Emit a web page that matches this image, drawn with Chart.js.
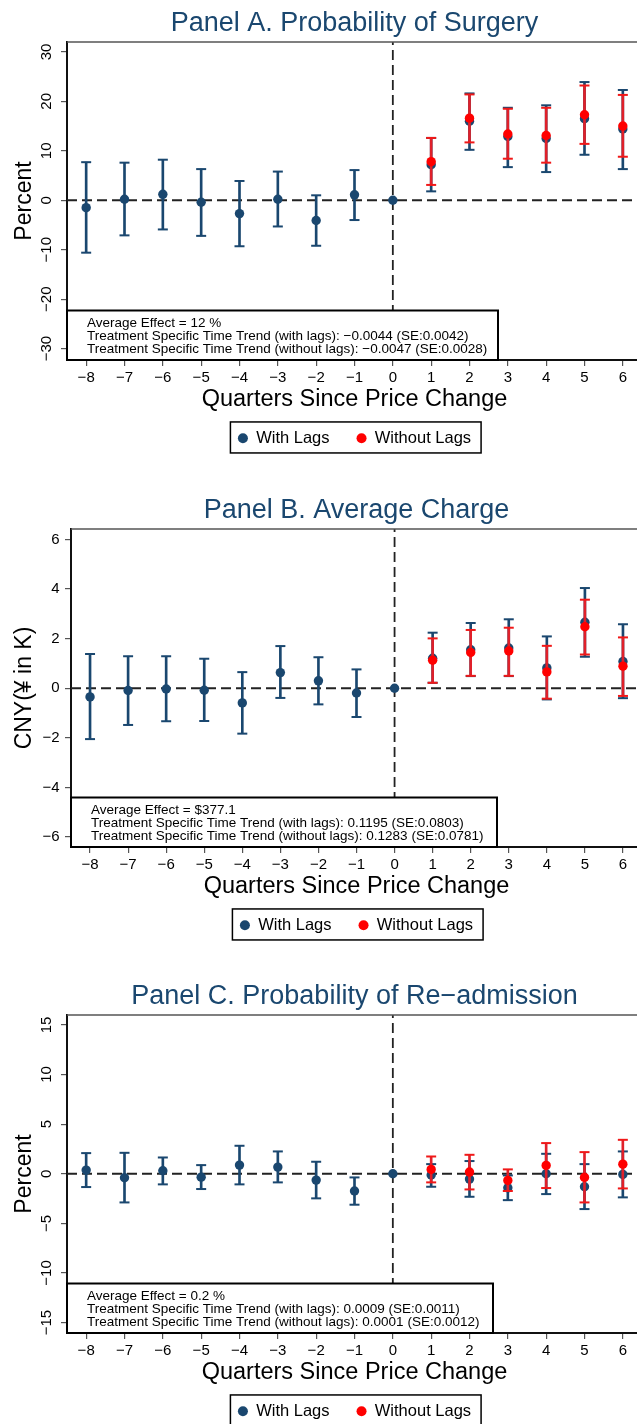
<!DOCTYPE html>
<html>
<head>
<meta charset="utf-8">
<script src="https://cdn.jsdelivr.net/npm/chart.js@4.4.0/dist/chart.umd.min.js"></script>
<style>
  html, body { margin: 0; padding: 0; background: #fff; overflow: hidden; }
  #wrap { width: 637px; height: 1424px; overflow: hidden; }
  canvas { display: block; }
</style>
</head>
<body>
<div id="wrap">
  <canvas id="panelA" width="649" height="487"></canvas>
  <canvas id="panelB" width="649" height="486"></canvas>
  <canvas id="panelC" width="649" height="487"></canvas>
</div>
<script>
// quarters relative to the price change
const quarters = [-8, -7, -6, -5, -4, -3, -2, -1, 0, 1, 2, 3, 4, 5, 6];
const postQuarters = [1, 2, 3, 4, 5, 6];
const xRange = [-8.5, 6.5];

// Panel A - probability of surgery (percent)
const surgWithEst = [-1.5, 0.2, 1.2, -0.4, -2.7, 0.2, -4.1, 1.1, 0, 7.2, 16.0, 12.9, 12.5, 16.5, 14.4];
const surgWithLo = [-10.6, -7.1, -5.9, -7.2, -9.3, -5.3, -9.2, -4.0, null, 1.8, 10.2, 6.7, 5.7, 9.2, 6.3];
const surgWithHi = [7.7, 7.6, 8.2, 6.3, 3.9, 5.8, 1.0, 6.1, null, 12.6, 21.6, 18.7, 19.2, 23.9, 22.3];
const surgNoEst = [7.8, 16.6, 13.4, 13.1, 17.3, 15.0];
const surgNoLo = [3.1, 11.7, 8.4, 7.6, 11.4, 8.8];
const surgNoHi = [12.6, 21.4, 18.5, 18.7, 23.2, 21.3];
const surgTicks = [-30, -20, -10, 0, 10, 20, 30];

// Panel B - average charge (CNY thousands)
const chargeWithEst = [-0.35, -0.09, -0.03, -0.08, -0.59, 0.63, 0.30, -0.19, 0, 1.21, 1.55, 1.62, 0.82, 2.66, 1.08];
const chargeWithLo = [-2.05, -1.48, -1.33, -1.32, -1.83, -0.39, -0.65, -1.16, null, 0.22, 0.49, 0.49, -0.45, 1.27, -0.40];
const chargeWithHi = [1.38, 1.29, 1.29, 1.19, 0.65, 1.70, 1.25, 0.76, null, 2.24, 2.63, 2.78, 2.09, 4.04, 2.58];
const chargeNoEst = [1.13, 1.44, 1.50, 0.66, 2.48, 0.89];
const chargeNoLo = [0.22, 0.50, 0.50, -0.42, 1.36, -0.31];
const chargeNoHi = [2.01, 2.35, 2.44, 1.71, 3.57, 2.05];
const chargeTicks = [-6, -4, -2, 0, 2, 4, 6];

// Panel C - probability of re-admission (percent)
const readmWithEst = [0.37, -0.40, 0.30, -0.34, 0.87, 0.67, -0.64, -1.74, 0, -0.13, -0.54, -1.42, 0.0, -1.31, -0.07];
const readmWithLo = [-1.34, -2.89, -1.07, -1.54, -1.07, -0.87, -2.48, -3.12, null, -1.31, -2.32, -2.66, -2.05, -3.56, -2.38];
const readmWithHi = [2.08, 2.11, 1.64, 0.87, 2.82, 2.25, 1.21, -0.37, null, 0.97, 1.28, -0.17, 2.01, 0.97, 2.25];
const readmNoEst = [0.44, 0.17, -0.67, 0.84, -0.37, 0.97];
const readmNoLo = [-0.87, -1.58, -1.74, -1.44, -2.89, -1.48];
const readmNoHi = [1.74, 1.91, 0.44, 3.09, 2.18, 3.42];
const readmTicks = [-15, -10, -5, 0, 5, 10, 15];

const navy = '#1a476f';
const red = '#ff0000';
const redBar = '#e0202a';
const fontFam = '"Liberation Sans", Arial, Helvetica, sans-serif';

Chart.defaults.font.family = fontFam;
Chart.defaults.color = '#000';

const minusSign = v => String(v).replace('-', '\u2212');

function ciBars(xs, lo, hi) {
  const out = [];
  xs.forEach((x, i) => { if (lo[i] !== null) out.push({x: x, y: [lo[i], hi[i]]}); });
  return out;
}
function ciCaps(xs, lo, hi) {
  const out = [];
  xs.forEach((x, i) => {
    if (lo[i] !== null) { out.push({x: x, y: lo[i]}); out.push({x: x, y: hi[i]}); }
  });
  return out;
}
function pts(xs, ys) { return xs.map((x, i) => ({x: x, y: ys[i]})); }

// top frame line, note box and legend frame
const framePlugin = {
  id: 'frameAndNotes',
  afterDatasetsDraw(chart, args, opts) {
    const ctx = chart.ctx, a = chart.chartArea;
    ctx.save();
    ctx.strokeStyle = '#555';
    ctx.lineWidth = 1.5;
    ctx.beginPath(); ctx.moveTo(a.left, a.top); ctx.lineTo(a.right + 5, a.top); ctx.stroke();
    const top = opts.boxTop, right = opts.boxRight;
    ctx.fillStyle = '#fff';
    ctx.fillRect(a.left, top, right - a.left, a.bottom - top);
    ctx.strokeStyle = '#000';
    ctx.lineWidth = 2;
    ctx.strokeRect(a.left, top, right - a.left, a.bottom - top);
    ctx.fillStyle = '#000';
    ctx.font = '13.5px ' + fontFam;
    ctx.textBaseline = 'middle';
    opts.lines.forEach((t, i) => ctx.fillText(t, a.left + 20, top + 12.5 + i * 13));
    ctx.restore();
  },
  afterDraw(chart) {
    const hb = chart.legend.legendHitBoxes;
    if (!hb || !hb.length) return;
    const ctx = chart.ctx;
    const cy = hb[0].top + hb[0].height / 2;
    const last = hb[hb.length - 1];
    ctx.save();
    ctx.strokeStyle = '#000';
    ctx.lineWidth = 1.5;
    ctx.strokeRect(hb[0].left - 7.5, cy - 16.3, last.left + last.width + 10 + 7.5 - hb[0].left, 31);
    ctx.restore();
  }
};

function makePanel(id, p) {
  const datasets = [
    {type: 'line', data: [{x: xRange[0], y: 0}, {x: xRange[1], y: 0}], borderColor: '#222', borderWidth: 1.8,
     borderDash: [10, 5], pointRadius: 0, order: 10},
    {type: 'line', data: [{x: 0, y: p.yMin}, {x: 0, y: p.yMax}], borderColor: '#222', borderWidth: 1.8,
     borderDash: [10, 5], pointRadius: 0, order: 10},
    {type: 'bar', data: ciBars(quarters, p.withLo, p.withHi), backgroundColor: navy, barThickness: 2,
     grouped: false, order: 6},
    {type: 'scatter', data: ciCaps(quarters, p.withLo, p.withHi), pointStyle: 'line', pointRadius: 5,
     borderColor: navy, borderWidth: 2, order: 5},
    {type: 'scatter', label: 'With Lags', data: pts(quarters, p.withEst), pointStyle: 'circle', pointRadius: 4.7,
     backgroundColor: navy, borderColor: navy, borderWidth: 0, order: 4, inLegend: true},
    {type: 'bar', data: ciBars(postQuarters, p.noLo, p.noHi), backgroundColor: redBar, barThickness: 2,
     grouped: false, order: 3},
    {type: 'scatter', data: ciCaps(postQuarters, p.noLo, p.noHi), pointStyle: 'line', pointRadius: 5,
     borderColor: '#f01818', borderWidth: 2, order: 2},
    {type: 'scatter', label: 'Without Lags', data: pts(postQuarters, p.noEst), pointStyle: 'circle', pointRadius: 4.7,
     backgroundColor: red, borderColor: red, borderWidth: 0, order: 1, inLegend: true}
  ];

  const yTickOpts = p.rotateY
    ? {minRotation: 90, maxRotation: 90, crossAlign: 'center', padding: 1.6}
    : {crossAlign: 'near', padding: 5.5};

  new Chart(document.getElementById(id), {
    type: 'scatter',
    data: {datasets: datasets},
    plugins: [framePlugin],
    options: {
      responsive: false,
      animation: false,
      events: [],
      layout: {padding: {top: 7.5, left: 0, right: 0, bottom: p.padBottom}},
      scales: {
        x: {
          type: 'linear', min: xRange[0], max: xRange[1], offset: false,
          afterBuildTicks: s => { s.ticks = quarters.map(v => ({value: v})); },
          ticks: {autoSkip: false, maxRotation: 0, padding: 3.3, font: {size: 15}, color: '#000', callback: minusSign},
          grid: {offset: false, drawOnChartArea: false, tickLength: 6, color: '#555', lineWidth: 1.2},
          border: {color: '#111', width: 2},
          title: {display: true, text: 'Quarters Since Price Change', font: {size: 23.5}, color: '#000',
                  padding: {top: 0, bottom: -11}},
          afterFit: s => { s.height = 43; s.paddingLeft = 0; s.paddingRight = 0; }
        },
        y: {
          type: 'linear', min: p.yMin, max: p.yMax,
          afterBuildTicks: s => { s.ticks = p.yTicks.map(v => ({value: v})); },
          ticks: Object.assign({autoSkip: false, font: {size: 15}, color: '#000', callback: minusSign}, yTickOpts),
          grid: {drawOnChartArea: false, tickLength: 6, color: '#555', lineWidth: 1.2},
          border: {color: '#111', width: 2},
          title: {display: true, text: p.yTitle, font: {size: 23}, color: '#000', padding: {top: 10.5, bottom: 0}},
          afterFit: s => { s.width = p.yWidth; }
        }
      },
      plugins: {
        title: {display: true, text: p.title, color: navy, fullSize: false,
                font: {size: 27, weight: 'normal'}, padding: {top: 0, bottom: 2.1}},
        legend: {
          position: 'bottom', fullSize: false,
          labels: {
            usePointStyle: true, pointStyleWidth: 10, boxHeight: 7, padding: 27,
            font: {size: 16.5}, color: '#000',
            filter: (item, data) => data.datasets[item.datasetIndex].inLegend === true,
            sort: (a, b) => a.datasetIndex - b.datasetIndex
          }
        },
        tooltip: {enabled: false},
        frameAndNotes: {boxTop: 310.5, boxRight: p.boxRight, lines: p.notes}
      }
    }
  });
}

makePanel('panelA', {
  title: 'Panel A. Probability of Surgery', yTitle: 'Percent', rotateY: true, yWidth: 67,
  yMin: -32.3, yMax: 32, yTicks: surgTicks, padBottom: 30.5, boxRight: 498,
  withEst: surgWithEst, withLo: surgWithLo, withHi: surgWithHi,
  noEst: surgNoEst, noLo: surgNoLo, noHi: surgNoHi,
  notes: ['Average Effect = 12 %',
          'Treatment Specific Time Trend (with lags): \u22120.0044 (SE:0.0042)',
          'Treatment Specific Time Trend (without lags): \u22120.0047 (SE:0.0028)']
});

makePanel('panelB', {
  title: 'Panel B. Average Charge', yTitle: 'CNY(\u00a5 in K)', rotateY: false, yWidth: 71,
  yMin: -6.4, yMax: 6.42, yTicks: chargeTicks, padBottom: 29.5, boxRight: 497,
  withEst: chargeWithEst, withLo: chargeWithLo, withHi: chargeWithHi,
  noEst: chargeNoEst, noLo: chargeNoLo, noHi: chargeNoHi,
  notes: ['Average Effect = $377.1',
          'Treatment Specific Time Trend (with lags): 0.1195 (SE:0.0803)',
          'Treatment Specific Time Trend (without lags): 0.1283 (SE:0.0781)']
});

makePanel('panelC', {
  title: 'Panel C. Probability of Re\u2212admission', yTitle: 'Percent', rotateY: true, yWidth: 67,
  yMin: -16.05, yMax: 16, yTicks: readmTicks, padBottom: 30.5, boxRight: 493,
  withEst: readmWithEst, withLo: readmWithLo, withHi: readmWithHi,
  noEst: readmNoEst, noLo: readmNoLo, noHi: readmNoHi,
  notes: ['Average Effect = 0.2 %',
          'Treatment Specific Time Trend (with lags): 0.0009 (SE:0.0011)',
          'Treatment Specific Time Trend (without lags): 0.0001 (SE:0.0012)']
});
</script>
</body>
</html>
